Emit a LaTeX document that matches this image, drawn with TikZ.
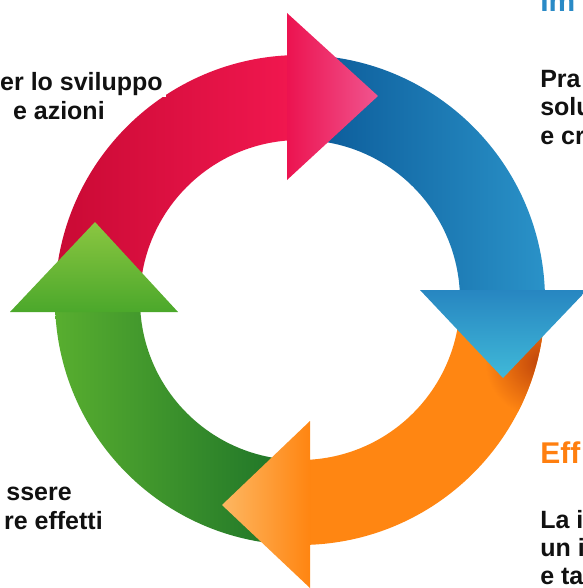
\documentclass[tikz,border=0pt]{standalone}
\usepackage{fontspec}
\setmainfont{Liberation Sans}
\definecolor{redA}{HTML}{C90A34}
\definecolor{redB}{HTML}{F1174F}
\definecolor{redH1}{HTML}{EC1350}
\definecolor{redH2}{HTML}{F0558F}
\definecolor{blueA}{HTML}{0A5897}
\definecolor{blueB}{HTML}{2A92C8}
\definecolor{blueH1}{HTML}{2786C1}
\definecolor{blueH2}{HTML}{40B9D8}
\definecolor{orMain}{HTML}{FF8612}
\definecolor{orShadow}{HTML}{C0450A}
\definecolor{orH1}{HTML}{FF8511}
\definecolor{orH2}{HTML}{FDB762}
\definecolor{grA}{HTML}{58AE2F}
\definecolor{grM}{HTML}{47A22C}
\definecolor{grB}{HTML}{1B7128}
\definecolor{grH1}{HTML}{4BA82B}
\definecolor{grH2}{HTML}{8BC641}
\definecolor{txtcol}{HTML}{111111}
\definecolor{headblue}{HTML}{2A8AC6}
\definecolor{headorange}{HTML}{FF7F0F}
\begin{document}
\begin{tikzpicture}[x=0.75pt,y=0.75pt,
  txt/.style={font=\bfseries\fontsize{18.75pt}{21pt}\selectfont, text=txtcol, inner sep=0pt},
  heading/.style={font=\bfseries\fontsize{22.5pt}{26pt}\selectfont, inner sep=0pt}]
\useasboundingbox (0,0) rectangle (582,-588);
\begin{scope}[shift={(300,-300)}]
  % shafts (each ends a little under its own head)
  \shade[left color=redA, right color=redB]
    (180:245) arc[start angle=180, end angle=91.87, radius=245]
    -- (92.87:160) arc[start angle=92.87, end angle=180, radius=160] -- cycle;
  \shade[left color=blueA, right color=blueB]
    (90:245) arc[start angle=90, end angle=1.87, radius=245]
    -- (2.87:160) arc[start angle=2.87, end angle=90, radius=160] -- cycle;
  \fill[orMain]
    (0:245) arc[start angle=0, end angle=-88.13, radius=245]
    -- (-87.13:160) arc[start angle=-87.13, end angle=0, radius=160] -- cycle;
  \begin{scope}
    \clip (0:245) arc[start angle=0, end angle=-88.13, radius=245]
      -- (-87.13:160) arc[start angle=-87.13, end angle=0, radius=160] -- cycle;
    \shade[inner color=orShadow, outer color=orMain] (240,-62) circle (55);
  \end{scope}
  \shade[left color=grA, middle color=grM, right color=grB]
    (270:245) arc[start angle=270, end angle=181.87, radius=245]
    -- (182.87:160) arc[start angle=182.87, end angle=270, radius=160] -- cycle;
  % heads
  \shade[left color=redH1, middle color=redH1, right color=redH2]
    (-13,287) -- (78,204) -- (-13,120) -- cycle;
  \shade[top color=blueH1, bottom color=blueH2]
    (120,10) -- (287,10) -- (203,-78) -- cycle;
  \shade[right color=orH1, middle color=orH1, left color=orH2]
    (10,-121) -- (10,-288) -- (-78,-205) -- cycle;
  \shade[bottom color=grH1, top color=grH2]
    (-122,-12) -- (-290,-12) -- (-205,78) -- cycle;
\end{scope}
% white box behind top-left text
\fill[white] (0,-62) rectangle (166,-97);
% texts
\node[txt, anchor=base east] (tl1) at (163,-91) {er lo sviluppo};
\node[txt, anchor=base east] (tl2) at (105,-120) {e azioni};
\node[txt, anchor=base east] (bl1) at (72,-500) {ssere};
\node[txt, anchor=base east] (bl2) at (103,-529) {re effetti};
\node[heading, text=headblue, anchor=base west] (hb) at (540,-12) {Im};
\node[txt, anchor=base west] (tr1) at (540,-88) {Pra};
\node[txt, anchor=base west] (tr2) at (540,-116) {solu};
\node[txt, anchor=base west] (tr3) at (540,-144) {e cr};
\node[heading, text=headorange, anchor=base west] (ho) at (540,-463) {Eff};
\node[txt, anchor=base west] (br1) at (540,-528) {La i};
\node[txt, anchor=base west] (br2) at (540,-556) {un i};
\node[txt, anchor=base west] (br3) at (540,-584) {e ta};
\end{tikzpicture}
\end{document}
